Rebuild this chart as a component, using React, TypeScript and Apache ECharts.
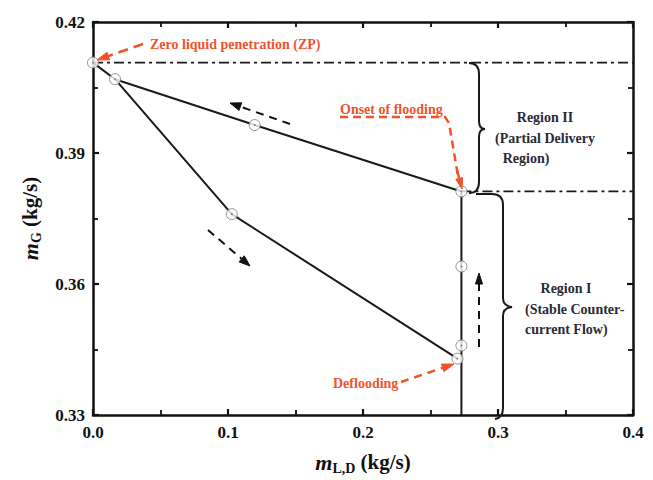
import React, { useEffect, useRef } from "react";
import * as echarts from "echarts";

// ---- data (kg/s) ----
const upperBranch: number[][] = [
  [0.0, 0.4107],
  [0.0163, 0.4069],
  [0.1198, 0.3964],
  [0.2729, 0.3812],
];
const lowerBranch: number[][] = [
  [0.0163, 0.4069],
  [0.1028, 0.376],
  [0.270, 0.3429],
];
const verticalBranch: number[][] = [
  [0.2729, 0.3812],
  [0.2729, 0.33],
];
const markerPoints: number[][] = [
  [0.0, 0.4107],
  [0.0163, 0.4069],
  [0.1198, 0.3964],
  [0.2729, 0.3812],
  [0.1028, 0.376],
  [0.270, 0.3429],
  [0.2729, 0.3459],
  [0.2729, 0.364],
];
const zpLine: number[][] = [
  [0.0, 0.4107],
  [0.4, 0.4107],
];
const floodLine: number[][] = [
  [0.2729, 0.3812],
  [0.4, 0.3812],
];
const xRange = [0, 0.4];
const yRange = [0.33, 0.42];

const SERIF = "Liberation Serif";
const RED = "#f0532a";
const INK = "#111";

function arrow(
  x1: number, y1: number, x2: number, y2: number,
  color: string, lw: number, dash: number[], L = 10, W = 7
): any[] {
  const dx = x2 - x1, dy = y2 - y1;
  const len = Math.hypot(dx, dy);
  const ux = dx / len, uy = dy / len;
  const bx = x2 - ux * L, by = y2 - uy * L;
  const nx = -uy, ny = ux;
  return [
    {
      type: "line",
      shape: { x1, y1, x2: bx, y2: by },
      style: { stroke: color, lineWidth: lw, lineDash: dash },
      z: 100,
    },
    {
      type: "polygon",
      shape: {
        points: [
          [x2, y2],
          [bx + nx * W / 2, by + ny * W / 2],
          [bx - nx * W / 2, by - ny * W / 2],
        ],
      },
      style: { fill: color, stroke: color, lineWidth: 1 },
      z: 100,
    },
  ];
}

const braceII =
  "M 469 63 Q 479 63 479 74 L 479 121 Q 479 129 485 129 Q 479 129 479 137 L 479 182 Q 479 193 469 193";
const braceI =
  "M 476 194 L 492 194 Q 503 194 503 205 L 503 298 Q 503 306 512 307 Q 503 308 503 316 L 503 408 Q 503 418 495 419";

echarts.graphic.registerShape("braceII", echarts.graphic.extendPath(braceII, {}));
echarts.graphic.registerShape("braceI", echarts.graphic.extendPath(braceI, {}));

function txt(text: string, x: number, y: number, fill: string, align = "left"): any {
  return {
    type: "text", x, y, z: 100,
    style: {
      text, fill, align, verticalAlign: "middle",
      fontFamily: SERIF, fontWeight: "bold", fontSize: 14,
    },
  };
}

export default function App() {
  const ref = useRef<HTMLDivElement>(null);
  useEffect(() => {
    document.body.style.margin = "0";
    if (!ref.current) return;
    const chart = echarts.init(ref.current, null, { renderer: "svg" });

    const axisNameRich = {
      m: { fontFamily: SERIF, fontStyle: "italic", fontWeight: "bold", fontSize: 22, color: INK, lineHeight: 26 },
      s: { fontFamily: SERIF, fontWeight: "bold", fontSize: 14, color: INK, verticalAlign: "bottom", lineHeight: 16 },
      n: { fontFamily: SERIF, fontWeight: "bold", fontSize: 21, color: INK, lineHeight: 26 },
    };

    const baseAxis = {
      axisLine: { show: true, onZero: false, lineStyle: { color: INK, width: 2.5 } },
      axisTick: { show: true, inside: true, length: 6, lineStyle: { color: INK, width: 2.2 } },
      minorTick: { show: true, splitNumber: 2, length: 5, lineStyle: { color: INK, width: 1.8 } },
      splitLine: { show: false },
      minorSplitLine: { show: false },
    };

    const lineStyle = { color: "#1a1a1a", width: 2 };
    const dashDot = { color: "#1a1a1a", width: 1.8, type: [10, 4, 3, 4] };

    const graphic: any[] = [
      { type: "braceII", x: 0, y: 0, style: { stroke: "#1a1a1a", lineWidth: 2, fill: null }, z: 100 },
      { type: "braceI", x: 0, y: 0, style: { stroke: "#1a1a1a", lineWidth: 2, fill: null }, z: 100 },
      txt("Zero liquid penetration (ZP)", 150, 44, RED),
      txt("Onset of flooding", 340, 109, RED),
      txt("Deflooding", 333, 383, RED),
      txt("Region II", 545, 117, "#2a2a36", "center"),
      txt("(Partial Delivery", 545, 138, "#2a2a36", "center"),
      txt("Region)", 526, 158, "#2a2a36", "center"),
      txt("Region I", 566, 288, "#2a2a36", "center"),
      txt("(Stable Counter-", 525, 309, "#2a2a36"),
      txt("current Flow)", 525, 329, "#2a2a36"),
      {
        type: "polyline",
        shape: { points: [[340, 117], [445, 117], [449, 123], [458, 176]] },
        style: { stroke: RED, lineWidth: 2.5, lineDash: [8, 5], fill: null },
        z: 100,
      },
      ...arrow(457, 170, 462, 189, RED, 2.5, [8, 5], 11, 7),
      ...arrow(143, 44, 97, 60, RED, 2.5, [10, 6], 12, 8),
      ...arrow(401, 382, 454, 364, RED, 2.5, [8, 6], 12, 8),
      ...arrow(290, 124, 230, 103, "#111", 2, [8, 6], 11, 8),
      ...arrow(208, 230, 250, 266, "#111", 2, [8, 6], 11, 8),
      ...arrow(479, 347, 479, 273, "#111", 2, [8, 6], 11, 7),
    ];

    chart.setOption({
      animation: false,
      backgroundColor: "#fff",
      grid: { left: 93, right: 20, top: 22, bottom: 61, containLabel: false },
      xAxis: [
        {
          ...baseAxis,
          type: "value",
          min: xRange[0],
          max: xRange[1],
          interval: 0.1,
          position: "bottom",
          axisLabel: {
            show: true, margin: 9, fontFamily: SERIF, fontWeight: "bold", fontSize: 17, color: INK,
            formatter: (v: number) => v.toFixed(1),
          },
          name: "{m|m}{s|L,D}{n| (kg/s)}",
          nameLocation: "middle",
          nameGap: 34,
          nameTextStyle: { rich: axisNameRich },
        },
        {
          ...baseAxis,
          type: "value",
          min: xRange[0],
          max: xRange[1],
          interval: 0.1,
          position: "top",
          axisLabel: { show: false },
        },
      ],
      yAxis: [
        {
          ...baseAxis,
          type: "value",
          min: yRange[0],
          max: yRange[1],
          interval: 0.03,
          position: "left",
          axisLabel: {
            show: true, margin: 8, fontFamily: SERIF, fontWeight: "bold", fontSize: 17, color: INK,
            formatter: (v: number) => v.toFixed(2),
          },
          name: "{m|m}{s|G}{n| (kg/s)}",
          nameLocation: "middle",
          nameGap: 50,
          nameRotate: 90,
          nameTextStyle: { rich: axisNameRich },
        },
        {
          ...baseAxis,
          type: "value",
          min: yRange[0],
          max: yRange[1],
          interval: 0.03,
          position: "right",
          axisLabel: { show: false },
        },
      ],
      series: [
        { type: "line", data: zpLine, symbol: "none", lineStyle: dashDot, z: 2 },
        { type: "line", data: floodLine, symbol: "none", lineStyle: dashDot, z: 2 },
        { type: "line", data: upperBranch, symbol: "none", lineStyle, z: 3 },
        { type: "line", data: lowerBranch, symbol: "none", lineStyle, z: 3 },
        { type: "line", data: verticalBranch, symbol: "none", lineStyle, z: 3 },
        {
          type: "scatter", data: markerPoints, symbol: "circle", symbolSize: 11,
          itemStyle: { color: "#fff", borderColor: "#7a7a7a", borderWidth: 1 }, z: 4,
        },
        {
          type: "scatter", data: markerPoints, symbol: "circle", symbolSize: 1.8,
          itemStyle: { color: "#666" }, z: 5,
        },
      ],
      graphic,
    });

    return () => chart.dispose();
  }, []);

  return (
    <div
      ref={ref}
      style={{ position: "fixed", left: 0, top: 0, width: 653, height: 480, background: "#fff" }}
    />
  );
}
